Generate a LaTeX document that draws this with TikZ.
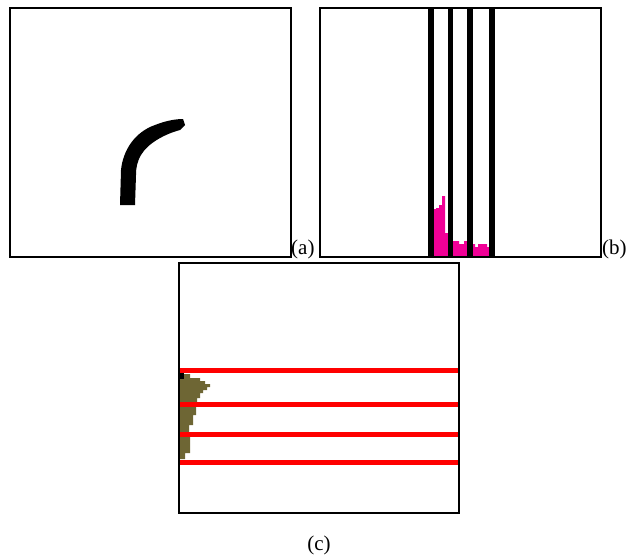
\documentclass[tikz,border=0pt]{standalone}
\usepackage{fontspec}
\setmainfont{Liberation Serif}
\definecolor{magbar}{RGB}{240,0,150}
\definecolor{olivefill}{RGB}{110,102,52}
\tikzset{
  panel/.style={draw=black, line width=2pt},
  sublabel/.style={font=\fontsize{21}{25}\selectfont, inner sep=0pt},
  blackbar/.style={fill=black},
  redline/.style={draw=red, line width=5pt},
}
\begin{document}
\begin{tikzpicture}[x=1pt,y=-1pt]
\useasboundingbox (0,0) rectangle (631,558);
% panel (a)
\fill[black] (120,205) -- (121,170) .. controls (123,150) and (135,132) .. (155,125)
  .. controls (165,121) and (175,119) .. (183,119) -- (185,125)
  -- (180,130) .. controls (165,134) and (148,143) .. (141,155)
  .. controls (137,162) and (136,168) .. (136,175) -- (135,205) -- cycle;
\draw[panel] (10,8) rectangle (291,257);
\node[sublabel, anchor=west] (la) at (291,249) {(a)};
% panel (b)
\fill[magbar] (434,257) |- (436,209) |- (439,208) |- (442,205) |- (445,196) |- (448,233) -- (448,257) -- cycle;
\fill[magbar] (453,257) |- (459,241) |- (464,244) |- (467,241) -- (467,257) -- cycle;
\fill[magbar] (473,257) |- (475,244) |- (478,247) |- (487,244) |- (489,247) -- (489,257) -- cycle;
\fill[blackbar] (428,8) rectangle (434,257);
\fill[blackbar] (448,8) rectangle (453,257);
\fill[blackbar] (467,8) rectangle (473,257);
\fill[blackbar] (489,8) rectangle (495,257);
\draw[panel] (320,8) rectangle (601,257);
\node[sublabel, anchor=west] (lb) at (602,249) {(b)};
% panel (c)
\fill[olivefill] (180,374) -| (190,378) -| (200,381) -| (205,384) -| (210,387) -| (207,390)
  -| (203,393) -| (200,398) -| (197,402) -| (196,415) -| (193,425) -| (189,437)
  -| (190,453) -| (185,459) -| (180,374) -- cycle;
\fill[black] (180,372) rectangle (184,379);
\draw[redline] (179,370.5) -- (459,370.5);
\draw[redline] (179,404.5) -- (459,404.5);
\draw[redline] (179,434.5) -- (459,434.5);
\draw[redline] (179,462.5) -- (459,462.5);
\draw[panel] (179,263) rectangle (459,513);
\node[sublabel] (lc) at (319,545) {(c)};
\end{tikzpicture}
\end{document}
